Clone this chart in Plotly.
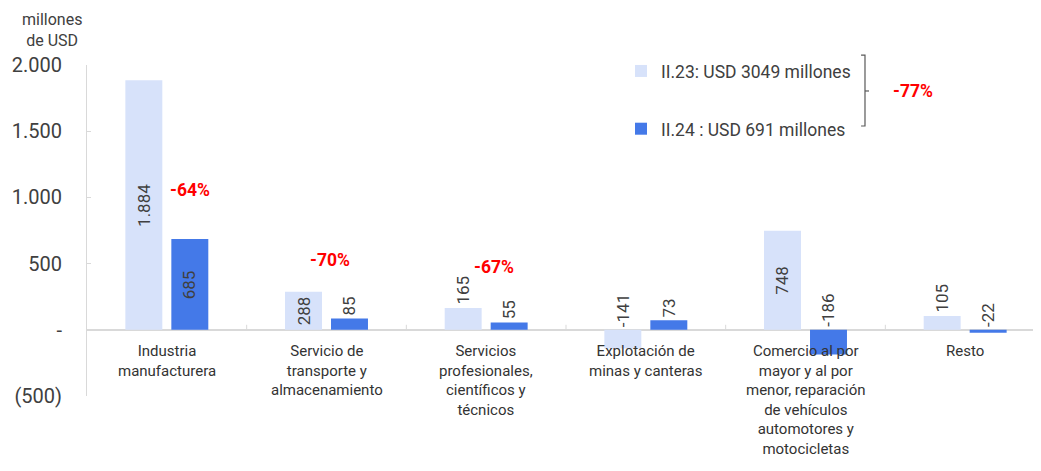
import plotly.graph_objects as go

categories = [
    "Industria<br>manufacturera",
    "Servicio de<br>transporte y<br>almacenamiento",
    "Servicios<br>profesionales,<br>científicos y<br>técnicos",
    "Explotación de<br>minas y canteras",
    "Comercio al por<br>mayor y al por<br>menor, reparación<br>de vehículos<br>automotores y<br>motocicletas",
    "Resto",
]
series_names = ["II.23: USD 3049 millones", "II.24 : USD 691 millones"]
values_2023 = [1884, 288, 165, -141, 748, 105]
values_2024 = [685, 85, 55, 73, -186, -22]
pct_changes = ["-64%", "-70%", "-67%"]
total_change = "-77%"
y_ticks = [-500, 0, 500, 1000, 1500, 2000]
y_tick_labels = ["(500)", "-", "500", "1.000", "1.500", "2.000"]

LIGHT = "#D7E2FA"
DARK = "#4479E8"
TXT = "#404040"
FONT = "Roboto, Arial, sans-serif"
BARGAP = 0.424
GROUPGAP = 0.196

x = list(range(len(categories)))

fig = go.Figure()
fig.add_trace(go.Bar(x=x, y=values_2023, name=series_names[0], marker=dict(color=LIGHT, line=dict(width=0)),
                     legendgroup="a", offsetgroup="a"))
fig.add_trace(go.Bar(x=x, y=values_2024, name=series_names[1], marker=dict(color=DARK, line=dict(width=0)),
                     legendgroup="b", offsetgroup="b"))

annotations = []
# data labels
bar_slot = (1 - BARGAP) / 2
for k, vals in enumerate([values_2023, values_2024]):
    off = (-0.5 + k) * bar_slot
    for i, v in enumerate(vals):
        txt = f"{v:,}".replace(",", ".")
        if v >= 250:
            annotations.append(dict(x=i + off, y=v / 2, xref="x", yref="y", text=txt, showarrow=False,
                                    textangle=-90, font=dict(size=17, color=TXT, family=FONT),
                                    xanchor="center", yanchor="middle"))
        else:
            annotations.append(dict(x=i + off, y=max(v, 0), xref="x", yref="y", text=txt, showarrow=False,
                                    textangle=-90, font=dict(size=17, color=TXT, family=FONT),
                                    xanchor="center", yanchor="bottom", yshift=1))

# category labels at the zero line
for i, c in enumerate(categories):
    annotations.append(dict(x=i, y=0, xref="x", yref="y", text=c, showarrow=False,
                            font=dict(size=15, color="#333333", family=FONT),
                            xanchor="center", yanchor="top", yshift=-10))

# percentage changes
pct_pos = [(0.145, 1057), (1.02, 528), (2.05, 475)]
for (px, py), t in zip(pct_pos, pct_changes):
    annotations.append(dict(x=px, y=py, xref="x", yref="y", text=f"<b>{t}</b>", showarrow=False,
                            font=dict(size=17.5, color="#FF0000", family=FONT),
                            xanchor="center", yanchor="middle"))
annotations.append(dict(x=0.862, y=0.921, xref="paper", yref="paper", text=f"<b>{total_change}</b>",
                        showarrow=False, font=dict(size=17.5, color="#FF0000", family=FONT),
                        xanchor="center", yanchor="middle"))
# y-axis title
annotations.append(dict(x=-0.0365, y=1.107, xref="paper", yref="paper", text="millones<br>de USD",
                        showarrow=False, font=dict(size=16, color=TXT, family=FONT),
                        xanchor="center", yanchor="middle"))

shapes = []
# bracket
shapes.append(dict(type="path", xref="paper", yref="paper",
                   path="M 0.808 1.030 L 0.8121 1.030 L 0.8121 0.8157 L 0.808 0.8157",
                   line=dict(color="#595959", width=1.2)))
shapes.append(dict(type="line", xref="paper", yref="paper", x0=0.8121, x1=0.8163, y0=0.9215, y1=0.9215,
                   line=dict(color="#595959", width=1.2)))
# category boundary ticks on the zero line
for i in range(len(categories) - 1):
    shapes.append(dict(type="line", xref="x", yref="y", x0=i + 0.5, x1=i + 0.5, y0=0, y1=38,
                       line=dict(color="#D9D9D9", width=1)))

fig.update_layout(
    width=1041, height=455,
    margin=dict(l=79, r=4, t=57, b=67, autoexpand=False),
    paper_bgcolor="white", plot_bgcolor="white",
    barmode="group", bargap=BARGAP, bargroupgap=GROUPGAP,
    font=dict(family=FONT, color=TXT),
    showlegend=True,
    legend=dict(x=0.5574, y=1.036, xanchor="left", yanchor="top", traceorder="grouped",
                tracegroupgap=32, font=dict(size=17.5, color=TXT, family=FONT),
                bgcolor="rgba(0,0,0,0)", itemwidth=30),
    xaxis=dict(range=[-0.5, len(categories) - 0.5], showticklabels=False, showgrid=False,
               zeroline=False, showline=False, ticks=""),
    yaxis=dict(range=[-500, 2000], tickvals=y_ticks, ticktext=y_tick_labels, showgrid=False,
               zeroline=True, zerolinecolor="#D9D9D9", zerolinewidth=2,
               showline=True, linecolor="#D9D9D9", linewidth=1, ticks="inside", ticklen=4,
               tickcolor="#D9D9D9", tickfont=dict(size=20, color=TXT, family=FONT),
               ticklabelstandoff=20, automargin=False),
    annotations=annotations,
    shapes=shapes,
)

fig.write_html("out.html")
